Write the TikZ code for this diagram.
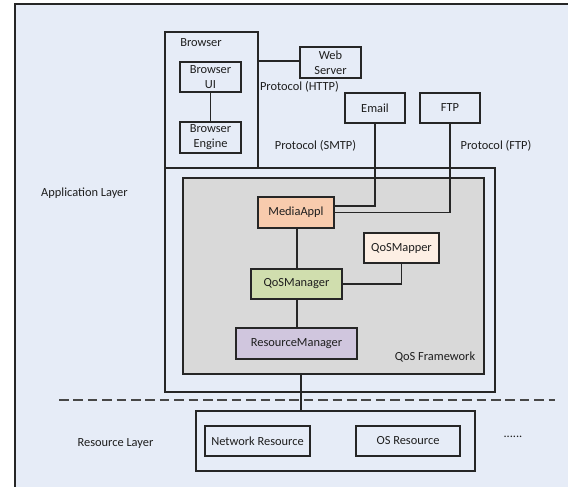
\documentclass[tikz,border=0pt]{standalone}
\usepackage{fontspec}
\setmainfont{Carlito}
\usetikzlibrary{calc}
\definecolor{bg}{HTML}{E6ECF7}
\definecolor{linec}{HTML}{262626}
\definecolor{txt}{HTML}{1E1E1E}
\definecolor{grayfw}{HTML}{D9D9D9}
\definecolor{mediac}{HTML}{F8CBAD}
\definecolor{mapperc}{HTML}{FDEFE4}
\definecolor{managerc}{HTML}{D0DEAE}
\definecolor{rmc}{HTML}{D0C6DE}
\tikzset{
  box/.style={draw=linec, line width=0.85pt, fill=bg, inner sep=0pt, align=center, text=txt},
  sz/.style 2 args={minimum width=#1*0.75pt, minimum height=#2*0.75pt},
  lbl/.style={inner sep=0pt, text=txt},
  wire/.style={draw=linec, line width=0.95pt},
}
\begin{document}
\begin{tikzpicture}[x=0.75pt,y=-0.75pt,font=\fontsize{9.3}{11.3}\selectfont]
\useasboundingbox (0,0) rectangle (568,486);
% outer frame
\draw[draw=linec, line width=0.85pt, fill=bg] (15,4) rectangle (580,500);

% browser group
\node[box, sz={93}{136}] (browser) at (211.5,100) {};
\node[lbl, anchor=west] (browserlbl) at (180,43) {Browser};
\node[box, sz={61}{30}] (bui) at (210.5,77) {Browser\\UI};
\node[box, sz={61}{31}] (beng) at (210.5,137.5) {Browser\\Engine};
\node[box, sz={61}{31}] (web) at (330.5,62.5) {Web\\Server};
\node[box, sz={60}{30}] (email) at (375,108) {Email};
\node[box, sz={60}{30}] (ftp) at (450,108) {FTP};

\node[lbl] (http) at (299.5,87) {Protocol (HTTP)};
\node[lbl] (smtp) at (315.5,146) {Protocol (SMTP)};
\node[lbl] (ftpp) at (496,146) {Protocol (FTP)};

% application layer box and QoS framework
\node[box, sz={330}{224}] (app) at (330,280) {};
\node[box, fill=grayfw, sz={301}{196}] (qos) at (333.5,276) {};
\node[lbl] (qoslbl) at (435,357) {QoS Framework};
\node[lbl] (applbl) at (84.5,193) {Application Layer};

\node[box, fill=mediac, sz={76}{31}] (media) at (296,212.5) {MediaAppl};
\node[box, fill=mapperc, sz={75}{30}] (mapper) at (401.5,248) {QoSMapper};
\node[box, fill=managerc, sz={91}{30}] (manager) at (296.5,284) {QoSManager};
\node[box, fill=rmc, sz={121}{31}] (rm) at (296.5,343.5) {ResourceManager};

% resource layer
\node[box, sz={279}{60}] (res) at (335.5,441) {};
\node[box, sz={105}{30}] (net) at (257.5,441) {Network Resource};
\node[box, sz={104}{30}] (os) at (408,441) {OS Resource};
\node[lbl] (dots) at (513,437) {......};
\node[lbl] (reslbl) at (115.5,444) {Resource Layer};

% dashed separator
\coordinate (dashL) at (59,400);
\coordinate (dashR) at (555,400);
\draw[draw=linec!85, line width=1.1pt, dash pattern=on 7.2pt off 3.6pt] (dashL) -- (dashR);

% connectors
\coordinate (httpy) at (280,61);
\coordinate (smtpy) at (340,206);
\coordinate (spine) at (297,300);
\draw[wire] (bui.south) -- (beng.north);
\draw[wire] (web.west |- httpy) -- (browser.east |- httpy);
\draw[wire] (email.south) |- (media.east |- smtpy);
\draw[wire] (ftp.south) |- (media.east);
\draw[wire] (media.south -| spine) -- (manager.north -| spine);
\draw[wire] (manager.east) -| (mapper.south);
\draw[wire] (manager.south -| spine) -- (rm.north -| spine);
\coordinate (link) at (301,380);
\draw[wire] (qos.south -| link) -- (res.north -| link);
\end{tikzpicture}
\end{document}
